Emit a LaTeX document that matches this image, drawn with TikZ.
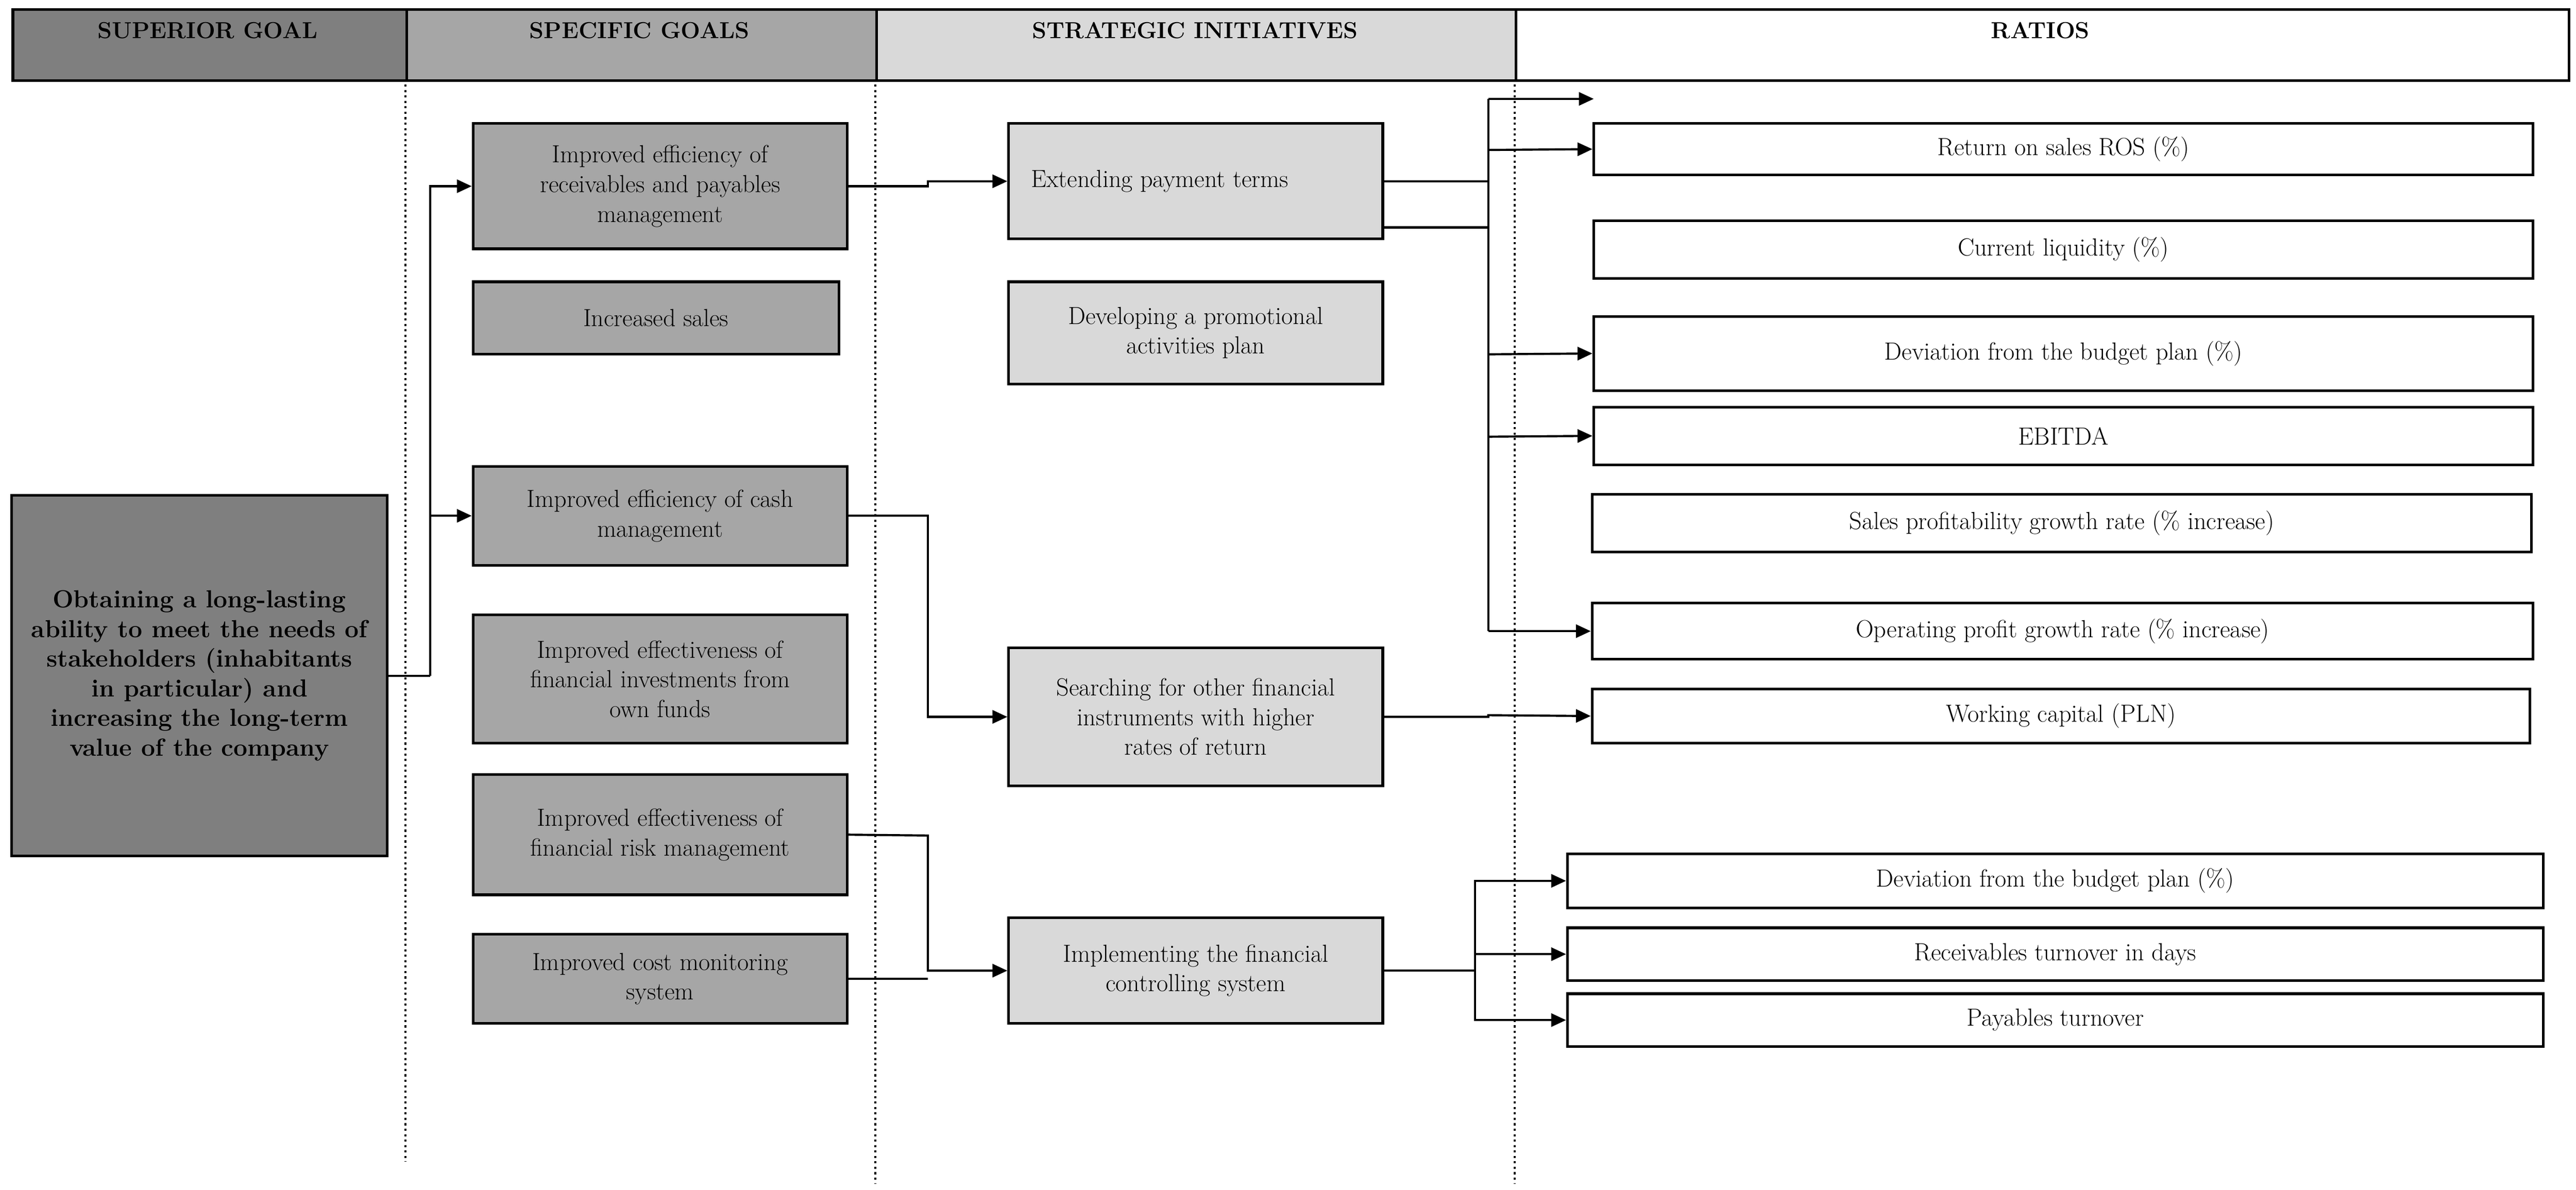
\documentclass[tikz,border=0pt]{standalone}
\usetikzlibrary{arrows.meta}
\begin{document}
\begin{tikzpicture}[x=1pt,y=-1pt,
  bx/.style={draw=black,line width=1.6pt,align=center,inner sep=0pt,font=\fontsize{15}{18}\selectfont},
  hd/.style={draw=black,line width=1.6pt,anchor=north west,inner sep=0pt},
  ht/.style={font=\bfseries\fontsize{14}{16}\selectfont,anchor=north},
  ln/.style={line width=1.3pt},
  ar/.style={ln,-{Triangle[length=9pt,width=8pt]}},
  dt/.style={line width=1.3pt,dotted}]
\useasboundingbox (0,0) rectangle (1563,722);
\definecolor{g1}{HTML}{7F7F7F}\definecolor{g2}{HTML}{A6A6A6}\definecolor{g3}{HTML}{D9D9D9}
% header
\node[hd,fill=g1,minimum width=239pt,minimum height=43pt] (h1) at (7,5) {};
\node[hd,fill=g2,minimum width=285pt,minimum height=43pt] (h2) at (246,5) {};
\node[hd,fill=g3,minimum width=388pt,minimum height=43pt] (h3) at (531,5) {};
\node[hd,fill=white,minimum width=639pt,minimum height=43pt] (h4) at (919,5) {};
\node[ht] at (126,10) {SUPERIOR GOAL};
\node[ht] at (388,10) {SPECIFIC GOALS};
\node[ht] at (725,10) {STRATEGIC INITIATIVES};
\node[ht] at (1238,10) {RATIOS};
\draw[dt] (246,48) -- (246,705);
\draw[dt] (531,48) -- (531,718);
\draw[dt] (919,48) -- (919,718);
% macro-free node placement: center + size
\node[bx,fill=g1,minimum width=228pt,minimum height=219pt,font=\bfseries\fontsize{15}{18}\selectfont] (sg) at (121,410) {Obtaining a long-lasting\\ability to meet the needs of\\stakeholders (inhabitants\\in particular) and\\increasing the long-term\\value of the company};
\node[bx,fill=g2,minimum width=227pt,minimum height=76pt] (a) at (400.5,113) {Improved efficiency of\\receivables and payables\\management};
\node[bx,fill=g2,minimum width=222pt,minimum height=44pt] (b) at (398,193) {Increased sales};
\node[bx,fill=g2,minimum width=227pt,minimum height=60pt] (c) at (400.5,313) {Improved efficiency of cash\\management};
\node[bx,fill=g2,minimum width=227pt,minimum height=78pt] (d) at (400.5,412) {Improved effectiveness of\\financial investments from\\own funds};
\node[bx,fill=g2,minimum width=227pt,minimum height=73pt] (e) at (400.5,506.5) {Improved effectiveness of\\financial risk management};
\node[bx,fill=g2,minimum width=227pt,minimum height=54pt] (f) at (400.5,594) {Improved cost monitoring\\system};
\node[bx,fill=g3,minimum width=227pt,minimum height=70pt] (s1) at (725.5,110) {Extending payment terms\phantom{xxxxxx}};
\node[bx,fill=g3,minimum width=227pt,minimum height=62pt] (s2) at (725.5,202) {Developing a promotional\\activities plan};
\node[bx,fill=g3,minimum width=227pt,minimum height=84pt] (s3) at (725.5,435) {Searching for other financial\\instruments with higher\\rates of return};
\node[bx,fill=g3,minimum width=227pt,minimum height=64pt] (s4) at (725.5,589) {Implementing the financial\\controlling system};
\node[bx,minimum width=570pt,minimum height=31pt] (r1) at (1252,90.5) {Return on sales ROS (\%)};
\node[bx,minimum width=570pt,minimum height=35pt] (r2) at (1252,151.5) {Current liquidity (\%)};
\node[bx,minimum width=570pt,minimum height=45pt] (r3) at (1252,214.5) {Deviation from the budget plan (\%)};
\node[bx,minimum width=570pt,minimum height=35pt] (r4) at (1252,264.5) {EBITDA};
\node[bx,minimum width=570pt,minimum height=35pt] (r5) at (1251,317.5) {Sales profitability growth rate (\% increase)};
\node[bx,minimum width=571pt,minimum height=34pt] (r6) at (1251.5,383) {Operating profit growth rate (\% increase)};
\node[bx,minimum width=569pt,minimum height=33pt] (r7) at (1250.5,434.5) {Working capital (PLN)};
\node[bx,minimum width=592pt,minimum height=33pt] (r8) at (1247,534.5) {Deviation from the budget plan (\%)};
\node[bx,minimum width=592pt,minimum height=32pt] (r9) at (1247,579) {Receivables turnover in days};
\node[bx,minimum width=592pt,minimum height=32pt] (r10) at (1247,619) {Payables turnover};
\coordinate (free) at (967,60);
% connectors
\draw[ln] (sg.east) -- (261,410);
\draw[ar] (261,410) |- (a.west);
\draw[ar] (261,410) |- (c.west);
\draw[ar] (a.east) -- (563,113) -- (563,110) -- (s1.west);
\draw[ln] (s1.east) -- (903,110);
\draw[ln] (839,138) -- (903,138);
\draw[ln] (903,60) -- (903,383);
\draw[ar] (903,60) -- (free);
\draw[ar] (903,91) -- (r1.west);
\draw[ar] (903,215) -- (r3.west);
\draw[ar] (903,265) -- (r4.west);
\draw[ar] (903,383) -- (r6.west);
\draw[ar] (c.east) -- (563,313) |- (s3.west);
\draw[ar] (s3.east) -- (903,435) -- (903,434) -- (r7.west);
\draw[ar] (e.east) -- (563,507) |- (s4.west);
\draw[ln] (f.east) -- (563,594);
\draw[ln] (s4.east) -- (895,589);
\draw[ar] (895,589) |- (r8.west);
\draw[ar] (895,579) -- (r9.west);
\draw[ar] (895,589) |- (r10.west);
\end{tikzpicture}
\end{document}
